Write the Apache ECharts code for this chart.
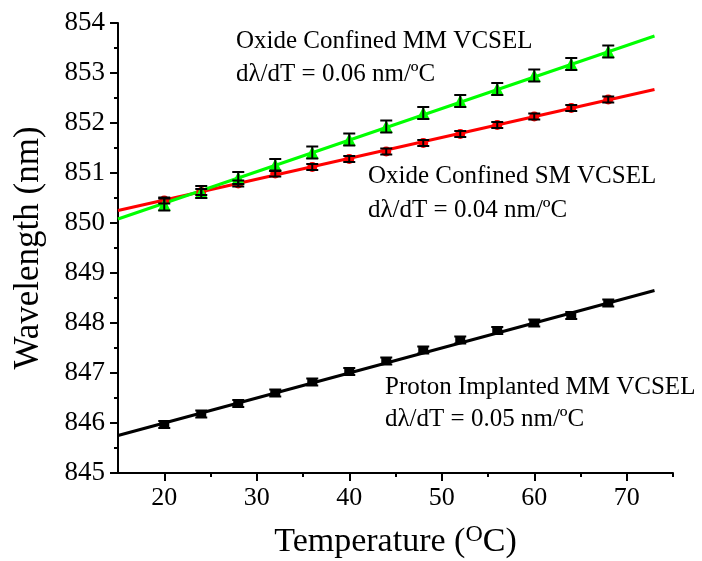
<!DOCTYPE html>
<html>
<head>
<meta charset="utf-8">
<script src="https://cdn.jsdelivr.net/npm/echarts@6/dist/echarts.min.js"></script>
<style>
  html, body { margin: 0; padding: 0; background: #fff; }
  #chart { width: 702px; height: 561px; }
</style>
</head>
<body>
<div id="chart"></div>
<script>
// Temperature points (°C)
var temperature = [20, 24, 28, 32, 36, 40, 44, 48, 52, 56, 60, 64, 68];

// Measured peak wavelength (nm) for each device
var protonMM = [845.97, 846.18, 846.39, 846.60, 846.82, 847.03, 847.24, 847.46, 847.66, 847.85, 848.00, 848.15, 848.40];
var oxideSM  = [850.45, 850.62, 850.79, 850.99, 851.12, 851.28, 851.43, 851.60, 851.78, 851.96, 852.13, 852.30, 852.47];
var oxideMM  = [850.37, 850.62, 850.90, 851.16, 851.41, 851.67, 851.93, 852.20, 852.44, 852.68, 852.95, 853.18, 853.43];

// Error bar half-widths (nm)
var errProtonMM = 0.07;
var errOxideSM = 0.06;
var errOxideMM = 0.12;

// Linear fits, given as [T, λ] end points
var fitT = [15, 73];
var fitProtonMM = [845.75, 848.65];
var fitOxideSM  = [850.25, 852.67];
var fitOxideMM  = [850.08, 853.74];

// Axis ticks
var xMajorTicks = [20, 30, 40, 50, 60, 70];
var xMinorTicks = [25, 35, 45, 55, 65, 75];

var FONT = '"Liberation Serif", "Times New Roman", serif';

function pairs(xs, ys) {
  return xs.map(function (x, i) { return [x, ys[i]]; });
}
function errData(xs, ys, e) {
  return xs.map(function (x, i) { return [x, ys[i] - e, ys[i] + e]; });
}

function errorBarSeries(name, data) {
  return {
    name: name,
    type: 'custom',
    z: 5,
    data: data,
    encode: { x: 0, y: [1, 2] },
    renderItem: function (params, api) {
      var lo = api.coord([api.value(0), api.value(1)]);
      var hi = api.coord([api.value(0), api.value(2)]);
      var half = 6;
      var style = { stroke: '#000', lineWidth: 2 };
      return {
        type: 'group',
        children: [
          { type: 'line', shape: { x1: lo[0], y1: lo[1], x2: hi[0], y2: hi[1] }, style: style },
          { type: 'line', shape: { x1: lo[0] - half, y1: lo[1], x2: lo[0] + half, y2: lo[1] }, style: style },
          { type: 'line', shape: { x1: hi[0] - half, y1: hi[1], x2: hi[0] + half, y2: hi[1] }, style: style }
        ]
      };
    }
  };
}

function fitSeries(name, ys, color) {
  return {
    name: name,
    type: 'line',
    z: 2,
    data: pairs(fitT, ys),
    symbol: 'none',
    lineStyle: { color: color, width: 3 },
    silent: true
  };
}

function pointSeries(name, ys, symbol, size, color) {
  return {
    name: name,
    type: 'scatter',
    z: 3,
    data: pairs(temperature, ys),
    symbol: symbol,
    symbolSize: size,
    itemStyle: { color: color, opacity: 1 }
  };
}

var chart = echarts.init(document.getElementById('chart'), null, { renderer: 'canvas' });

var textStyle = { fontFamily: FONT, fontSize: 25, fill: '#000' };
function note(left, top, text) {
  return { type: 'text', left: left, top: top, style: Object.assign({ text: text }, textStyle) };
}

chart.setOption({
  animation: false,
  backgroundColor: '#fff',
  grid: { left: 118, right: 29, top: 23, bottom: 88, outerBoundsMode: 'none', containLabel: false },
  xAxis: [{
    type: 'value',
    min: 15, max: 75,
    name: 'Temperature ({sup|O}C)',
    nameLocation: 'middle',
    nameGap: 50,
    nameTextStyle: {
      fontFamily: FONT, fontSize: 34, color: '#000',
      rich: { sup: { fontFamily: FONT, fontSize: 24, color: '#000', padding: [0, 0, 14, 0] } }
    },
    axisLine: { show: true, onZero: false, lineStyle: { color: '#000', width: 2 } },
    axisTick: { show: true, inside: false, length: 8, lineStyle: { color: '#000', width: 2 }, customValues: xMajorTicks },
    axisLabel: { show: true, margin: 12, fontFamily: FONT, fontSize: 26, color: '#000', customValues: xMajorTicks },
    splitLine: { show: false }
  }, {
    type: 'value',
    min: 15, max: 75,
    position: 'bottom',
    axisLine: { show: false },
    axisTick: { show: true, inside: false, length: 4, lineStyle: { color: '#000', width: 2 }, customValues: xMinorTicks },
    axisLabel: { show: false },
    splitLine: { show: false }
  }],
  yAxis: {
    type: 'value',
    min: 845, max: 854, interval: 1,
    name: 'Wavelength (nm)',
    nameLocation: 'middle',
    nameGap: 72,
    nameTextStyle: { fontFamily: FONT, fontSize: 35, color: '#000' },
    axisLine: { show: true, onZero: false, lineStyle: { color: '#000', width: 2 } },
    axisTick: { show: true, inside: false, length: 8, lineStyle: { color: '#000', width: 2 } },
    minorTick: { show: true, splitNumber: 2, length: 4, lineStyle: { color: '#000', width: 2 } },
    axisLabel: { margin: 13, fontFamily: FONT, fontSize: 27, color: '#000' },
    splitLine: { show: false },
    minorSplitLine: { show: false }
  },
  graphic: [
    note(236, 29, 'Oxide Confined MM VCSEL'),
    note(236, 62, 'd\u03bb/dT = 0.06 nm/\u00baC'),
    note(368, 164, 'Oxide Confined SM VCSEL'),
    note(368, 198, 'd\u03bb/dT = 0.04 nm/\u00baC'),
    note(385, 375, 'Proton Implanted MM VCSEL'),
    note(385, 407, 'd\u03bb/dT = 0.05 nm/\u00baC')
  ],
  series: [
    fitSeries('Proton Implanted MM VCSEL fit', fitProtonMM, '#000000'),
    fitSeries('Oxide Confined SM VCSEL fit', fitOxideSM, '#ff0000'),
    fitSeries('Oxide Confined MM VCSEL fit', fitOxideMM, '#00ff00'),
    pointSeries('Proton Implanted MM VCSEL', protonMM, 'rect', [10, 8], '#000000'),
    pointSeries('Oxide Confined SM VCSEL', oxideSM, 'circle', 10, '#ff0000'),
    pointSeries('Oxide Confined MM VCSEL', oxideMM, 'triangle', 13, '#00ff00'),
    errorBarSeries('Proton Implanted MM VCSEL error', errData(temperature, protonMM, errProtonMM)),
    errorBarSeries('Oxide Confined SM VCSEL error', errData(temperature, oxideSM, errOxideSM)),
    errorBarSeries('Oxide Confined MM VCSEL error', errData(temperature, oxideMM, errOxideMM))
  ]
});
</script>
</body>
</html>
